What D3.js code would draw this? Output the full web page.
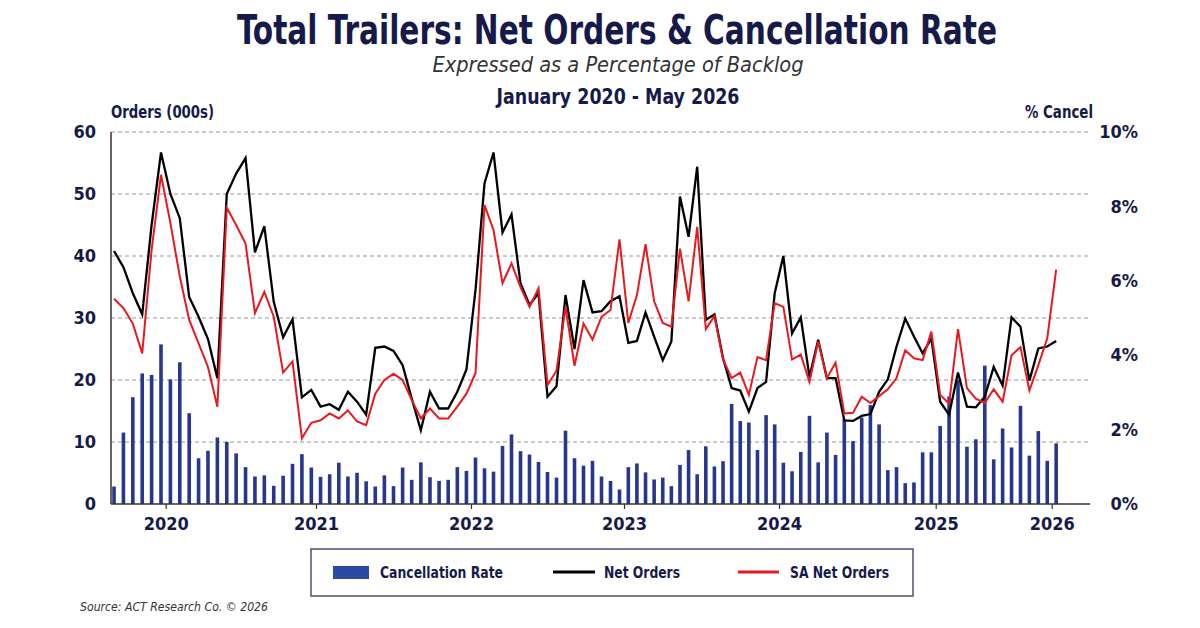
<!DOCTYPE html>
<html>
<head>
<meta charset="utf-8">
<script src="https://cdn.jsdelivr.net/npm/d3@7"></script>
<style>
  html, body { margin: 0; padding: 0; background: #fff; }
  svg { display: block; }
</style>
</head>
<body>
<svg id="chart" width="1200" height="628"></svg>
<script>
(function() {

  // ---------- data, one value per period
  var cancelRate = [
    0.47, 1.92, 2.87, 3.51, 3.47, 4.29, 3.35, 3.81, 2.44, 1.23,
    1.43, 1.79, 1.67, 1.36, 0.99, 0.74, 0.77, 0.49, 0.76, 1.08,
    1.34, 0.98, 0.73, 0.80, 1.11, 0.74, 0.84, 0.61, 0.47, 0.77,
    0.48, 0.98, 0.65, 1.12, 0.72, 0.62, 0.65, 0.99, 0.89, 1.25,
    0.96, 0.87, 1.56, 1.87, 1.42, 1.33, 1.13, 0.86, 0.71, 1.97,
    1.23, 1.03, 1.16, 0.74, 0.62, 0.39, 0.99, 1.09, 0.85, 0.66,
    0.71, 0.48, 1.05, 1.45, 0.80, 1.55, 1.01, 1.15, 2.69, 2.23,
    2.19, 1.45, 2.39, 2.14, 1.11, 0.88, 1.40, 2.37, 1.12, 1.92,
    1.32, 2.28, 1.69, 2.32, 2.66, 2.14, 0.91, 0.99, 0.56, 0.58,
    1.39, 1.39, 2.10, 2.89, 3.33, 1.54, 1.74, 3.72, 1.20, 2.03,
    1.52, 2.64, 1.30, 1.96, 1.16, 1.63
  ];

  var netOrders = [
    40.8, 38.2, 34.0, 30.6, 45.0, 56.7, 50.0, 46.1, 33.4, 30.2,
    26.6, 20.3, 50.0, 53.3, 55.8, 40.6, 44.8, 32.6, 26.9, 29.8,
    17.2, 18.4, 15.7, 16.1, 15.2, 18.1, 16.5, 14.4, 25.2, 25.4,
    24.7, 22.4, 17.0, 11.9, 18.1, 15.4, 15.4, 18.1, 21.7, 34.5,
    51.7, 56.7, 43.8, 46.7, 35.6, 32.1, 34.0, 17.3, 19.0, 33.7,
    25.0, 36.1, 30.9, 31.1, 32.7, 33.5, 26.0, 26.3, 30.9, 27.0,
    23.2, 26.2, 49.6, 43.1, 54.4, 29.7, 30.6, 23.5, 18.7, 18.3,
    14.9, 18.7, 19.7, 34.0, 40.0, 27.5, 30.1, 20.5, 26.5, 20.3,
    20.3, 13.5, 13.4, 14.2, 14.5, 18.1, 20.1, 25.4, 29.9, 27.0,
    24.3, 26.7, 16.5, 14.4, 21.2, 15.7, 15.6, 17.3, 22.1, 19.1,
    30.1, 28.6, 19.9, 25.1, 25.4, 26.3
  ];

  var saNetOrders = [
    33.1, 31.6, 29.1, 24.3, 41.0, 53.1, 45.3, 36.7, 29.7, 25.9,
    22.1, 15.7, 47.8, 45.0, 42.0, 30.8, 34.2, 30.2, 21.2, 23.0,
    10.6, 13.1, 13.5, 14.6, 13.8, 15.1, 13.3, 12.7, 17.8, 20.0,
    21.0, 20.0, 16.8, 13.8, 15.4, 13.8, 13.8, 15.7, 17.8, 21.1,
    48.2, 44.2, 35.6, 38.8, 35.0, 31.8, 34.8, 19.2, 21.5, 31.8,
    22.3, 29.1, 26.5, 30.2, 31.3, 42.7, 29.2, 33.7, 41.9, 32.7,
    29.2, 28.6, 41.2, 32.7, 44.7, 28.2, 30.3, 23.3, 20.3, 21.2,
    17.6, 23.7, 23.2, 32.4, 31.8, 23.3, 24.1, 19.7, 26.2, 20.3,
    22.8, 14.6, 14.7, 17.3, 16.3, 17.4, 18.5, 20.3, 24.8, 23.5,
    23.2, 27.8, 17.6, 16.2, 28.2, 18.7, 17.0, 16.3, 18.5, 16.5,
    24.0, 25.3, 18.3, 22.4, 26.7, 37.8
  ];

  // year labels sit between two periods (index of the boundary)
  var yearLabels = ['2020', '2021', '2022', '2023', '2024', '2025', '2026'];
  var yearTickAt = [5.5, 21.5, 38.5, 55.5, 73.5, 91.5, 104.5];

  var orderTicks = [0, 10, 20, 30, 40, 50, 60];
  var cancelTicks = [0, 2, 4, 6, 8, 10];

  var legendLabels = ['Cancellation Rate', 'Net Orders', 'SA Net Orders'];

  // ---------- look
  var navy = '#161a4a';
  var barBlue = '#27378e';
  var swatchBlue = '#2b4aa6';
  var red = '#e8191f';
  var narrow = "'Liberation Sans Narrow', 'Arial Narrow', 'DejaVu Sans Condensed', 'Liberation Sans', sans-serif";

  var plot = { left: 111, right: 1090, top: 132, bottom: 504 };

  // where the year ticks fall on the page (the source axis is not evenly spaced)
  var yearTickPx = [165.7, 316, 471, 624, 779, 935.7, 1051.7];

  var svg = d3.select('#chart');

  // ----------
  function label(x, y, str, opts) {
    var node = svg.append('text')
      .attr('x', x)
      .attr('y', y)
      .attr('text-anchor', opts.anchor || 'middle')
      .style('font-family', opts.family || narrow)
      .style('font-size', opts.size + 'px')
      .style('font-weight', opts.bold ? 'bold' : 'normal')
      .style('font-style', opts.italic ? 'italic' : 'normal')
      .style('fill', opts.fill || navy)
      .text(str);

    if (opts.width) {
      node.attr('textLength', opts.width)
        .attr('lengthAdjust', 'spacingAndGlyphs');
    }

    return node;
  }

  // ---------- scales
  var x = d3.scaleLinear()
    .domain(yearTickAt)
    .range(yearTickPx);

  var yOrders = d3.scaleLinear()
    .domain([0, 60])
    .range([plot.bottom, plot.top]);

  var yCancel = d3.scaleLinear()
    .domain([0, 10])
    .range([plot.bottom, plot.top]);

  // ---------- titles
  label(617, 44, 'Total Trailers: Net Orders & Cancellation Rate', { size: 40, bold: true, width: 760 });
  label(618, 72, 'Expressed as a Percentage of Backlog', { size: 21, italic: true, fill: '#333', width: 371 });
  label(618, 104, 'January 2020 - May 2026', { size: 22, bold: true, width: 243 });
  label(111, 118, 'Orders (000s)', { size: 17, bold: true, anchor: 'start', width: 103 });
  label(1093, 118, '% Cancel', { size: 17, bold: true, anchor: 'end', width: 68 });

  // ---------- gridlines
  svg.append('g')
    .selectAll('line')
    .data(orderTicks.filter(function(d) { return d > 0; }))
    .enter().append('line')
    .attr('x1', plot.left)
    .attr('x2', plot.right)
    .attr('y1', function(d) { return yOrders(d); })
    .attr('y2', function(d) { return yOrders(d); })
    .style('stroke', '#9a9a9a')
    .style('stroke-width', 1.2)
    .style('stroke-dasharray', '4,3');

  // ---------- bars (right axis)
  var barWidth = 3.6;

  svg.append('g')
    .selectAll('rect')
    .data(cancelRate)
    .enter().append('rect')
    .attr('x', function(d, i) { return x(i) - barWidth / 2; })
    .attr('y', function(d) { return yCancel(d); })
    .attr('width', barWidth)
    .attr('height', function(d) { return yCancel(0) - yCancel(d); })
    .style('fill', barBlue);

  // ---------- lines (left axis)
  var line = d3.line()
    .x(function(d, i) { return x(i); })
    .y(function(d) { return yOrders(d); });

  svg.append('path')
    .datum(netOrders)
    .attr('d', line)
    .style('fill', 'none')
    .style('stroke', '#000')
    .style('stroke-width', 2.3)
    .style('stroke-linejoin', 'miter');

  svg.append('path')
    .datum(saNetOrders)
    .attr('d', line)
    .style('fill', 'none')
    .style('stroke', red)
    .style('stroke-width', 2)
    .style('stroke-linejoin', 'miter');

  // ---------- axes
  var leftAxis = svg.append('g')
    .attr('transform', 'translate(' + plot.left + ',0)')
    .call(d3.axisLeft(yOrders).tickValues(orderTicks).tickSize(0).tickPadding(15));

  var rightAxis = svg.append('g')
    .attr('transform', 'translate(' + plot.right + ',0)')
    .call(d3.axisRight(yCancel).tickValues(cancelTicks).tickSize(0)
      .tickFormat(function(d) { return d + '%'; }));

  rightAxis.selectAll('text')
    .attr('x', 48)
    .attr('text-anchor', 'end');

  var bottomAxis = svg.append('g')
    .attr('transform', 'translate(0,' + plot.bottom + ')')
    .call(d3.axisBottom(x).tickValues(yearTickAt).tickSize(5).tickPadding(8)
      .tickFormat(function(d, i) { return yearLabels[i]; }));

  [leftAxis, rightAxis, bottomAxis].forEach(function(g) {
    g.select('.domain').remove();
    g.selectAll('text')
      .style('font-family', narrow)
      .style('font-size', '18px')
      .style('font-weight', 'bold')
      .style('fill', navy);
  });

  bottomAxis.selectAll('line')
    .style('stroke', '#333')
    .style('stroke-width', 1.2);

  svg.append('line')
    .attr('x1', plot.left).attr('x2', plot.left)
    .attr('y1', plot.top).attr('y2', plot.bottom)
    .style('stroke', '#333')
    .style('stroke-width', 1.5);

  svg.append('line')
    .attr('x1', plot.left).attr('x2', plot.right)
    .attr('y1', plot.bottom).attr('y2', plot.bottom)
    .style('stroke', '#333')
    .style('stroke-width', 1.5);

  // ---------- legend
  svg.append('rect')
    .attr('x', 311).attr('y', 549)
    .attr('width', 602).attr('height', 47)
    .style('fill', '#fff')
    .style('stroke', '#4a4f72')
    .style('stroke-width', 1.5);

  svg.append('rect')
    .attr('x', 333).attr('y', 566)
    .attr('width', 36).attr('height', 13)
    .style('fill', swatchBlue);

  svg.append('line')
    .attr('x1', 553).attr('x2', 595)
    .attr('y1', 572).attr('y2', 572)
    .style('stroke', '#000')
    .style('stroke-width', 3);

  svg.append('line')
    .attr('x1', 738).attr('x2', 779)
    .attr('y1', 572).attr('y2', 572)
    .style('stroke', red)
    .style('stroke-width', 3);

  label(380, 578, legendLabels[0], { size: 16, bold: true, anchor: 'start', width: 123 });
  label(604, 578, legendLabels[1], { size: 16, bold: true, anchor: 'start', width: 76 });
  label(790, 578, legendLabels[2], { size: 16, bold: true, anchor: 'start', width: 99 });

  // ---------- source
  label(80, 611, 'Source: ACT Research Co. \u00a9 2026', { size: 12.5, italic: true, anchor: 'start', fill: '#333', width: 188 });

})();
</script>
</body>
</html>
